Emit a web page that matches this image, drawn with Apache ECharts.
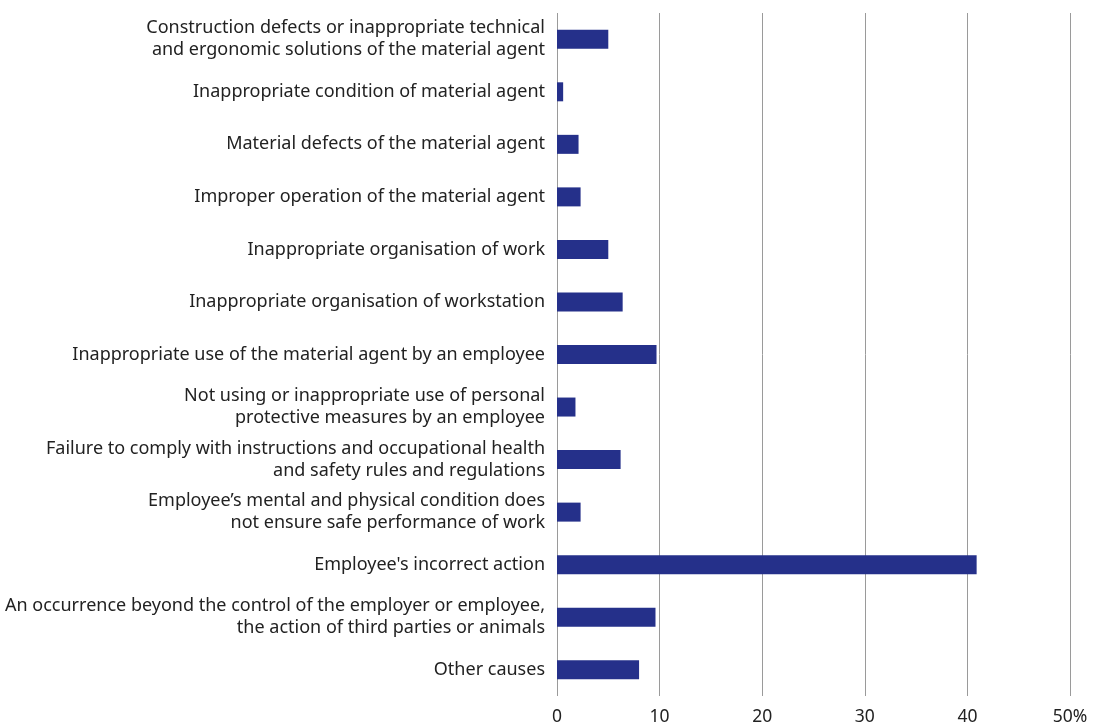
<!DOCTYPE html>
<html>
<head>
<meta charset="utf-8">
<script src="https://cdn.jsdelivr.net/npm/echarts@6/dist/echarts.min.js"></script>
<style>html,body{margin:0;padding:0;background:#fff}#c{width:1099px;height:726px}</style>
</head>
<body>
<div id="c"></div>
<script>
const categories = [
  "Construction defects or inappropriate technical\nand ergonomic solutions of the material agent",
  "Inappropriate condition of material agent",
  "Material defects of the material agent",
  "Improper operation of the material agent",
  "Inappropriate organisation of work",
  "Inappropriate organisation of workstation",
  "Inappropriate use of the material agent by an employee",
  "Not using or inappropriate use of personal\nprotective measures by an employee",
  "Failure to comply with instructions and occupational health\nand safety rules and regulations",
  "Employee\u2019s mental and physical condition does\nnot ensure safe performance of work",
  "Employee's incorrect action",
  "An occurrence beyond the control of the employer or employee,\nthe action of third parties or animals",
  "Other causes"
];
const values = [5.0, 0.6, 2.1, 2.3, 5.0, 6.4, 9.7, 1.8, 6.2, 2.3, 40.9, 9.6, 8.0];
const tickValues = [0, 10, 20, 30, 40, 50];
const tickLabels = ["0", "10", "20", "30", "40", "50%"];

const chart = echarts.init(document.getElementById('c'), null, {renderer: 'canvas'});
chart.setOption({
  animation: false,
  textStyle: {fontFamily: 'Noto Sans'},
  grid: {left: 557, right: 29, top: 13, bottom: 27, containLabel: false},
  xAxis: {
    type: 'value', min: 0, max: 50, interval: 10,
    axisLine: {show: false},
    axisTick: {show: false},
    splitLine: {show: true, lineStyle: {color: '#9a9a9a', width: 1}},
    axisLabel: {
      color: '#222', fontSize: 17.5, margin: 12,
      formatter: v => tickLabels[tickValues.indexOf(v)]
    }
  },
  yAxis: {
    type: 'category', data: categories, inverse: true,
    axisLine: {show: false},
    axisTick: {show: false},
    axisLabel: {color: '#222', fontSize: 18, lineHeight: 22, margin: 12, align: 'right'}
  },
  series: [{
    type: 'bar', data: values, barWidth: 19,
    itemStyle: {color: '#25308a'}
  }]
});
</script>
</body>
</html>
